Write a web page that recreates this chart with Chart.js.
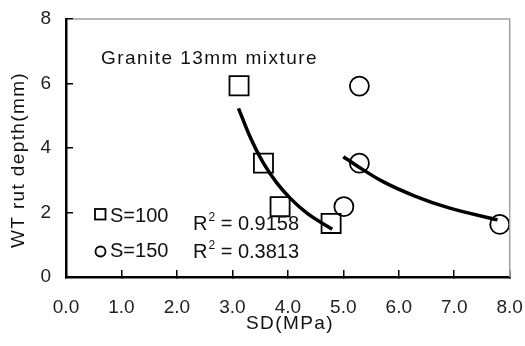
<!DOCTYPE html>
<html>
<head>
<meta charset="utf-8">
<script src="https://cdn.jsdelivr.net/npm/chart.js@4.4.0/dist/chart.umd.min.js"></script>
<style>
  html, body { margin: 0; padding: 0; background: #fff; }
  #wrap { width: 525px; height: 346px; }
</style>
</head>
<body>
<div id="wrap"><canvas id="myChart" width="525" height="346"></canvas></div>
<script>
// measured points, SD (MPa) vs WT rut depth (mm)
let s100X = [3.12, 3.56, 3.86, 4.78];
let s100Y = [5.93, 3.53, 2.18, 1.66];
let s150X = [5.29, 5.29, 5.01, 7.82];
let s150Y = [5.92, 3.53, 2.18, 1.63];

// trend curves
let trend100X = [3.11, 3.3, 3.56, 3.8, 4.05, 4.35, 4.8];
let trend100Y = [5.23, 4.42, 3.53, 2.92, 2.43, 1.97, 1.48];
let trend150X = [5.0, 5.27, 5.69, 6.29, 6.89, 7.78];
let trend150Y = [3.73, 3.42, 2.98, 2.51, 2.15, 1.77];

let xTicks = [0, 1, 2, 3, 4, 5, 6, 7, 8];
let yTicks = [0, 2, 4, 6, 8];

const pts = (xs, ys) => xs.map((x, i) => ({x: x, y: ys[i]}));
const FONT = "'Liberation Sans', Arial, sans-serif";

// draw text stretched (letter spacing) to a given width
function spacedText(ctx, text, x, y, width) {
    ctx.letterSpacing = '0px';
    let w = ctx.measureText(text).width;
    let sp = Math.max(0, (width - w) / text.length);
    ctx.letterSpacing = sp.toFixed(2) + 'px';
    ctx.fillText(text, x, y);
    ctx.letterSpacing = '0px';
}

// grey frame on top/right plus the text annotations
const extras = {
    id: 'extras',
    afterDraw(chart) {
        const ctx = chart.ctx;
        const a = chart.chartArea;
        ctx.save();
        ctx.strokeStyle = '#a0a0a0';
        ctx.lineWidth = 1.5;
        ctx.beginPath();
        ctx.moveTo(a.left + 7, a.top);
        ctx.lineTo(a.right, a.top);
        ctx.lineTo(a.right, a.bottom);
        ctx.stroke();

        ctx.fillStyle = '#111';
        ctx.textBaseline = 'alphabetic';
        ctx.font = '19px ' + FONT;

        ctx.textAlign = 'left';
        spacedText(ctx, 'Granite 13mm mixture', 101, 64, 217);

        ctx.textAlign = 'center';
        spacedText(ctx, 'SD(MPa)', 290, 329, 88);

        ctx.save();
        ctx.translate(24, 160);
        ctx.rotate(-Math.PI / 2);
        spacedText(ctx, 'WT rut depth(mm)', 0, 0, 176);
        ctx.restore();

        // legend
        ctx.strokeStyle = '#000';
        ctx.lineWidth = 1.8;
        ctx.strokeRect(95, 209, 10.5, 10.5);
        ctx.beginPath();
        ctx.arc(100.5, 251.5, 5, 0, Math.PI * 2);
        ctx.stroke();
        ctx.textAlign = 'left';
        ctx.font = '20px ' + FONT;
        ctx.fillText('S=100', 110, 222);
        ctx.fillText('S=150', 110, 257);

        const r2 = (val, x, y) => {
            ctx.font = '20px ' + FONT;
            ctx.fillText('R', x, y);
            let w = ctx.measureText('R').width;
            ctx.font = '12px ' + FONT;
            ctx.fillText('2', x + w + 1, y - 9);
            w += ctx.measureText('2').width + 1;
            ctx.font = '20px ' + FONT;
            ctx.fillText(' = ' + val, x + w, y);
        };
        r2('0.9158', 193, 230);
        r2('0.3813', 193, 258);
        ctx.restore();
    }
};

let ctx = document.getElementById('myChart').getContext('2d');
let myChart = new Chart(ctx, {
    type: 'scatter',
    data: {
        datasets: [
            {
                label: 'trend S=100',
                data: pts(trend100X, trend100Y),
                showLine: true,
                pointRadius: 0,
                borderColor: '#000',
                borderWidth: 3.5,
                cubicInterpolationMode: 'monotone'
            },
            {
                label: 'trend S=150',
                data: pts(trend150X, trend150Y),
                showLine: true,
                pointRadius: 0,
                borderColor: '#000',
                borderWidth: 3.5,
                cubicInterpolationMode: 'monotone'
            },
            {
                label: 'S=100',
                data: pts(s100X, s100Y),
                pointStyle: 'rect',
                pointRadius: 13.5,
                borderColor: '#000',
                borderWidth: 1.8,
                backgroundColor: 'rgba(0,0,0,0)'
            },
            {
                label: 'S=150',
                data: pts(s150X, s150Y),
                pointStyle: 'circle',
                pointRadius: 9.5,
                borderColor: '#000',
                borderWidth: 1.8,
                backgroundColor: 'rgba(0,0,0,0)'
            }
        ]
    },
    options: {
        responsive: false,
        animation: false,
        layout: { padding: { top: 19, right: 13, left: 0, bottom: 0 } },
        plugins: {
            legend: { display: false },
            tooltip: { enabled: false }
        },
        scales: {
            x: {
                type: 'linear',
                min: 0,
                max: 8,
                afterBuildTicks: axis => { axis.ticks = xTicks.map(v => ({value: v})); },
                afterFit: axis => {
                    axis.height = 69;
                    axis.paddingLeft = 0;
                    axis.paddingRight = 0;
                },
                ticks: {
                    padding: 26,
                    color: '#222',
                    font: { family: FONT, size: 19 },
                    callback: v => v.toFixed(1)
                },
                grid: {
                    drawOnChartArea: false,
                    drawTicks: true,
                    tickLength: -7,
                    color: '#000',
                    lineWidth: 1.5
                },
                border: { color: '#000', width: 2.5 }
            },
            y: {
                type: 'linear',
                min: 0,
                max: 8,
                afterBuildTicks: axis => { axis.ticks = yTicks.map(v => ({value: v})); },
                afterFit: axis => {
                    axis.width = 66;
                    axis.paddingTop = 0;
                    axis.paddingBottom = 0;
                },
                ticks: {
                    padding: 22,
                    color: '#222',
                    font: { family: FONT, size: 19 }
                },
                grid: {
                    drawOnChartArea: false,
                    drawTicks: true,
                    tickLength: -7,
                    color: '#000',
                    lineWidth: 1.5
                },
                border: { color: '#000', width: 2.5 }
            }
        }
    },
    plugins: [extras]
});
</script>
</body>
</html>
